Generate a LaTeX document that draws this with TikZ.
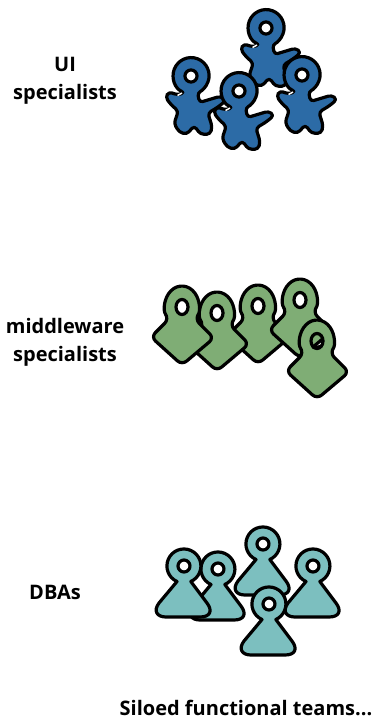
\documentclass[tikz,border=0pt]{standalone}
\usepackage{fontspec}
\setmainfont{Open Sans}
\usepackage{xcolor}
\usepackage{tikz}
\usetikzlibrary{positioning}
\definecolor{uiblue}{HTML}{2C6BA6}
\definecolor{mwgreen}{HTML}{7FAD75}
\definecolor{dbateal}{HTML}{7CBFBF}
\begin{document}
\begin{tikzpicture}[
  x=1pt, y=-1pt,
  font=\bfseries\fontsize{20}{23}\selectfont,
  lbl/.style={align=center, inner sep=0pt},
  person/.style={draw=black, line width=3.2pt, line join=round, even odd rule},
  uiman/.pic={
    \draw[person, fill=uiblue, rounded corners=3.5pt, scale=1.06]
      (-6,15.5) arc[start angle=111, end angle=429, radius=17]
      -- (8,25) -- (28,19) -- (33,23) -- (26,29) -- (16,35) -- (20,48)
      -- (18,55) -- (9,55) -- (3,47) -- (-4,55) -- (-11,53) -- (-16,45)
      -- (-12,33) -- (-19,27) -- (-24,20) -- (-21,15) -- (-12,18) -- cycle
      (5.7,0) arc[start angle=0, end angle=360, radius=5.7];
    \draw[white, line width=1.5pt] (-9,17) -- (-13.5,19.5);
  },
  mwman/.pic={
    \draw[person, fill=mwgreen, rounded corners=6pt]
      (-13,12) arc[start angle=139.6, end angle=400.4, x radius=17, y radius=20]
      -- (32,31) -- (0,58) -- (-31,30) -- cycle
      (0,0) ellipse[x radius=6, y radius=7.5];
  },
  dbaman/.pic={
    \draw[person, fill=dbateal]
      (-7,15.5) arc[start angle=114, end angle=426, radius=17]
      -- (23,37) .. controls (29,45) and (26,51) .. (16,51)
      -- (-18,51) .. controls (-27,51) and (-31,45) .. (-25,37) -- cycle
      (6,0) arc[start angle=0, end angle=360, radius=6];
  },
]
  \useasboundingbox (0,0) rectangle (376,719);

  % UI team
  \pic at (191,76) {uiman};
  \pic at (266,28) {uiman};
  \pic at (302,75) {uiman};
  \pic at (239,91) {uiman};

  % middleware team
  \pic at (258,306) {mwman};
  \pic at (217,313) {mwman};
  \pic at (182,307) {mwman};
  \pic at (300,300) {mwman};
  \pic at (317,341) {mwman};
  \draw[black, line width=1.5pt] (312,348) -- (322,345);

  % DBA team
  \pic at (218,569) {dbaman};
  \pic at (184,566) {dbaman};
  \pic at (263,544) {dbaman};
  \pic at (313,566) {dbaman};
  \pic at (269,604) {dbaman};

  % labels
  \node[lbl] (ui) at (65,81) {UI\\[5pt]specialists};
  \node[lbl] (mw) at (65,342) {middleware\\[5pt]specialists};
  \node[lbl] (dba) at (55,592) {DBAs};
  \node[lbl] (sil) at (246,708) {Siloed functional teams...};
\end{tikzpicture}
\end{document}
